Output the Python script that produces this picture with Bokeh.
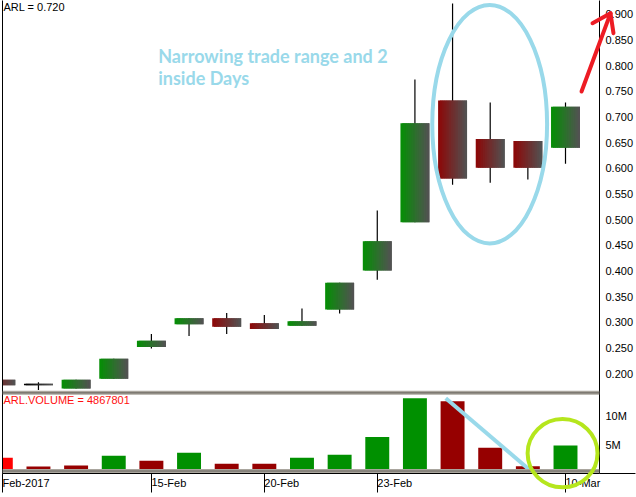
import numpy as np
from bokeh.plotting import figure
from bokeh.models import Range1d, LinearAxis, FixedTicker, Span, Label
from bokeh.embed import file_html
from bokeh.resources import INLINE

# ---------------- data ----------------
opens  = [0.188, 0.180, 0.171, 0.190, 0.252, 0.296, 0.308, 0.298, 0.293, 0.325, 0.401, 0.495, 0.732, 0.657, 0.653, 0.640]
highs  = [0.188, 0.183, 0.188, 0.229, 0.277, 0.308, 0.318, 0.314, 0.327, 0.377, 0.518, 0.773, 0.921, 0.728, 0.653, 0.728]
lows   = [0.177, 0.168, 0.171, 0.190, 0.249, 0.273, 0.277, 0.287, 0.293, 0.317, 0.383, 0.495, 0.568, 0.572, 0.578, 0.609]
closes = [0.177, 0.177, 0.188, 0.229, 0.264, 0.308, 0.291, 0.287, 0.302, 0.377, 0.458, 0.688, 0.580, 0.601, 0.601, 0.720]
candle_kind = ["down", "flat", "up", "up", "up", "up", "down", "down", "up", "up", "up", "up", "down", "down", "down", "up"]

volumes = [2.76e6, 1.20e6, 1.38e6, 3.10e6, 2.24e6, 3.62e6, 1.72e6, 1.72e6, 2.76e6, 3.28e6,
           6.38e6, 13.1e6, 12.6e6, 4.48e6, 1.26e6, 4867801]
vol_kind = ["first", "down", "down", "up", "down", "up", "down", "down", "up", "up",
            "up", "up", "down", "down", "down", "up"]

price_ticks = [0.200, 0.250, 0.300, 0.350, 0.400, 0.450, 0.500, 0.550,
               0.600, 0.650, 0.700, 0.750, 0.800, 0.850, 0.900]
vol_ticks = [5e6, 10e6]
vol_tick_labels = ["5M", "10M"]
date_tick_idx = [0, 4, 7, 10, 15]
date_tick_labels = ["Feb-2017", "15-Feb", "20-Feb", "23-Feb", "10-Mar"]

title_text = "ARL = 0.720"
volume_text = "ARL.VOLUME = 4867801"
note_lines = ["Narrowing trade range and 2", "inside Days"]

# ---------------- layout ----------------
W, H = 636, 497
FL, FR, FT, FB = 2, 600, 0, 478          # frame edges (px)
XS, XE = 0.045, 15.903
P_BOT, P_TOP = 0.00527, 0.927
V_BOT, V_TOP = 0.0, 82.41e6

def px2x(px):
    return XS + (px - FL) / (FR - FL) * (XE - XS)

def px2p(py):
    return P_TOP - (py - FT) / (FB - FT) * (P_TOP - P_BOT)

PX_PER_X = (FR - FL) / (XE - XS)
PX_PER_P = (FB - FT) / (P_TOP - P_BOT)

p = figure(width=W, height=H, x_range=Range1d(XS, XE), y_range=Range1d(P_BOT, P_TOP),
           output_backend="svg", toolbar_location=None, title=None,
           x_axis_location=None, y_axis_location=None,
           min_border_left=FL, min_border_right=W - FR, min_border_top=FT, min_border_bottom=H - FB)
p.extra_y_ranges = {"vol": Range1d(V_BOT, V_TOP)}
p.outline_line_color = None
p.background_fill_color = "white"
p.border_fill_color = "white"
p.grid.visible = False

FONT = "Liberation Sans"

# left plain border line
left_ax = LinearAxis(ticker=FixedTicker(ticks=[]), major_tick_out=0, major_tick_in=0,
                     minor_tick_out=0, minor_tick_in=0, major_label_standoff=0,
                     axis_line_color="black")
p.add_layout(left_ax, "left")

# right price / volume axis
vol_tick_pos = [round(px2p(FB - (v - V_BOT) / (V_TOP - V_BOT) * (FB - FT)), 6) for v in vol_ticks]
overrides = {t: f"{t:.3f}" for t in price_ticks}
overrides.update({vp: lab for vp, lab in zip(vol_tick_pos, vol_tick_labels)})
right_ax = LinearAxis(ticker=FixedTicker(ticks=price_ticks + vol_tick_pos),
                      major_label_overrides=overrides,
                      major_tick_out=0, major_tick_in=0, minor_tick_out=0, minor_tick_in=0,
                      major_label_standoff=6, axis_line_color="black",
                      major_label_text_font=FONT, major_label_text_font_size="11px",
                      major_label_text_color="black")
p.add_layout(right_ax, "right")

# bottom date axis (labels start at their tick, like the reference)
date_pos = [max(float(i), XS + 1e-4) for i in date_tick_idx]
bottom_ax = LinearAxis(ticker=FixedTicker(ticks=date_pos),
                       major_label_overrides={dp: lab for dp, lab in zip(date_pos, date_tick_labels)},
                       major_tick_out=H - FB, major_tick_in=0, minor_tick_out=0, minor_tick_in=0,
                       major_tick_line_color="black", axis_line_color="black",
                       major_label_orientation=-0.0001,
                       major_label_standoff=-10,
                       major_label_text_font=FONT, major_label_text_font_size="11px",
                       major_label_text_color="black")
p.add_layout(bottom_ax, "below")

# ---------------- candles ----------------
BODY_W = 0.769
idx = list(range(len(opens)))
p.segment(x0=idx, y0=lows, x1=idx, y1=highs, line_color="black", line_width=1.2)

start_col = {"up": (6, 142, 6), "down": (140, 8, 8), "flat": (0, 0, 0)}
end_col = (82, 82, 82)
NS = 16
step = BODY_W / NS
L, R, T, B, C = [], [], [], [], []
for i, (o, c, k) in enumerate(zip(opens, closes, candle_kind)):
    top, bot = max(o, c), min(o, c)
    c0 = start_col[k]
    for s in range(NS):
        f = s / (NS - 1)
        rgb = tuple(int(round(a + (b - a) * f)) for a, b in zip(c0, end_col))
        left = i - BODY_W / 2 + s * step
        L.append(left)
        R.append(left + (2 * step if s < NS - 1 else step))
        T.append(top)
        B.append(bot)
        C.append("#%02x%02x%02x" % rgb)
p.quad(left=L, right=R, top=T, bottom=B, fill_color=C, line_color=None)

# ---------------- volume ----------------
vcol = {"first": "#ff0000", "down": "#960000", "up": "#009000"}
p.vbar(x=idx, width=0.636, top=volumes, bottom=0, y_range_name="vol",
       fill_color=[vcol[k] for k in vol_kind], line_color=None)

# pane separators
for py in (396.5, 475.5):
    p.add_layout(Span(location=px2p(py), dimension="width", line_color="#aaa69e", line_width=4))
    p.add_layout(Span(location=px2p(py), dimension="width", line_color="#66625c", line_width=1))

# date axis line continues under the price scale
p.line(x=[px2x(FR), px2x(W)], y=[px2p(FB), px2p(FB)], line_color="black", line_width=1,
       level="overlay")

# ---------------- texts ----------------
p.add_layout(Label(x=px2x(3), y=px2p(0), text=title_text, text_baseline="top",
                   text_font=FONT, text_font_size="11px", text_color="black"))
p.add_layout(Label(x=px2x(3), y=px2p(398), text=volume_text, text_baseline="top",
                   text_font=FONT, text_font_size="11px", text_color="#ff1010"))
for line, py in zip(note_lines, (56, 78)):
    p.add_layout(Label(x=px2x(158), y=px2p(py), text=line, text_baseline="alphabetic",
                       text_font="Lato", text_font_size="18px", text_font_style="bold",
                       text_color="#99d9ea"))

# ---------------- annotations ----------------
BLUE = "#99d9ea"
RED = "#ed1c24"
LIME = "#b5e61d"
p.ellipse(x=[px2x(490)], y=[px2p(125)], width=115 / PX_PER_X, height=241 / PX_PER_P,
          fill_color=None, line_color=BLUE, line_width=4)
p.line(x=[px2x(446), px2x(533)], y=[px2p(402), px2p(477)], line_color=BLUE, line_width=4)

# red arrow drawn as strokes (shaft + two barbs), on the overlay level so it may cross the scale
arrow_strokes = [((582, 92), (611, 13)), ((611, 13), (593, 23)), ((611, 13), (614, 33))]
for (xa, ya), (xb, yb) in arrow_strokes:
    p.line(x=[px2x(xa), px2x(xb)], y=[px2p(ya), px2p(yb)], line_color=RED, line_width=4,
           line_cap="round", level="overlay")

# lime circle round the last volume bar
p.ellipse(x=[px2x(563)], y=[px2p(457.5)], width=70 / PX_PER_X, height=69 / PX_PER_P,
          fill_color=None, line_color=LIME, line_width=4, level="overlay")

open("out.html", "w").write(file_html(p, INLINE))
